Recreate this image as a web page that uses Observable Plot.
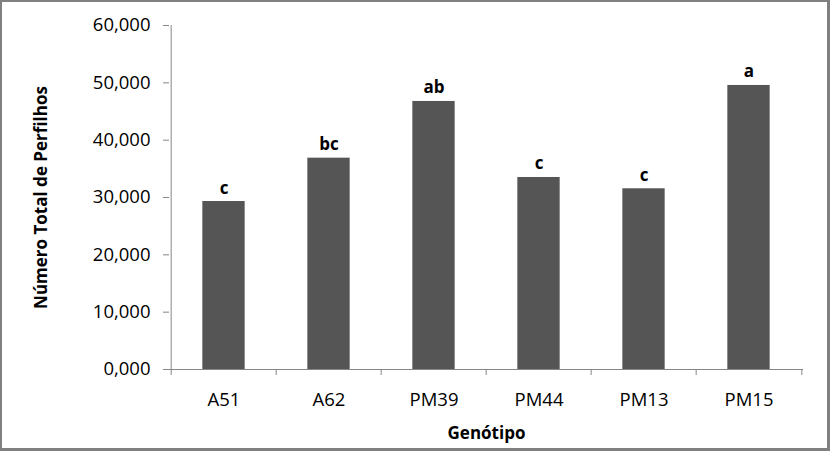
<!DOCTYPE html>
<html>
<head>
<meta charset="utf-8">
<script src="https://cdn.jsdelivr.net/npm/d3@7"></script>
<script src="https://cdn.jsdelivr.net/npm/@observablehq/plot@0.6"></script>
<style>
  html, body { margin: 0; padding: 0; background: #fff; }
  #wrap { position: relative; width: 830px; height: 451px; overflow: hidden; }
  #border { position: absolute; left: 0; top: 0; width: 830px; height: 451px; box-sizing: border-box; border: 3px solid #808080; border-top-width: 2px; border-left-width: 2px; pointer-events: none; }
</style>
</head>
<body>
<div id="wrap"><div id="border"></div></div>
<script>
const categories = ["A51", "A62", "PM39", "PM44", "PM13", "PM15"];
const values = [29.3, 36.86, 46.75, 33.49, 31.52, 49.54];
const letters = ["c", "bc", "ab", "c", "c", "a"];
const yTicks = [0, 10, 20, 30, 40, 50, 60];
const yTitle = "Número Total de Perfilhos";
const xTitle = "Genótipo";

const data = categories.map((c, i) => ({cat: c, value: values[i], letter: letters[i]}));

const W = 830, H = 451, ML = 169, MR = 27, MT = 25, MB = 82;
const bw = (W - ML - MR) / categories.length;
const barW = 43;
const inset = (bw - barW) / 2;
const axisColor = "#868686";
const fmt = d => d3.format(".3f")(d).replace(".", ",");

const chart = Plot.plot({
  width: W, height: H,
  marginLeft: ML, marginRight: MR, marginTop: MT, marginBottom: MB,
  style: {fontFamily: "'Open Sans', sans-serif", color: "#000", background: "transparent"},
  x: {domain: categories, padding: 0, label: null, axis: null},
  y: {domain: [0, 60], label: null, axis: null},
  marks: [
    Plot.barY(data, {x: "cat", y: "value", fill: "#555555", insetLeft: inset, insetRight: inset}),
    Plot.ruleY([0], {stroke: axisColor}),
    Plot.ruleX([categories[0]], {y1: 0, y2: 60, dx: -bw / 2, stroke: axisColor}),
    Plot.ruleX(categories, {y1: 0, y2: 0, insetBottom: -6, dx: -bw / 2, stroke: axisColor}),
    Plot.ruleX([categories[categories.length - 1]], {y1: 0, y2: 0, insetBottom: -6, dx: bw / 2, stroke: axisColor}),
    Plot.axisY({anchor: "left", ticks: yTicks, tickSize: 6, tickPadding: 13, tickFormat: fmt, fontSize: 18.5, stroke: axisColor, fill: "#000", label: null}),
    Plot.axisX({anchor: "bottom", tickSize: 0, tickPadding: 23, fontSize: 18.5, fill: "#000", label: null}),
    Plot.text(data, {x: "cat", y: "value", text: "letter", dy: -8, lineAnchor: "bottom", fontSize: 17, fontWeight: "bold"}),
    Plot.text([yTitle], {frameAnchor: "left", dx: -128, rotate: -90, textAnchor: "middle", lineAnchor: "middle", fontSize: 17, fontWeight: "bold"}),
    Plot.text([xTitle], {frameAnchor: "bottom", dy: 64, textAnchor: "middle", lineAnchor: "middle", fontSize: 17, fontWeight: "bold"})
  ]
});
document.getElementById("wrap").prepend(chart);
</script>
</body>
</html>
